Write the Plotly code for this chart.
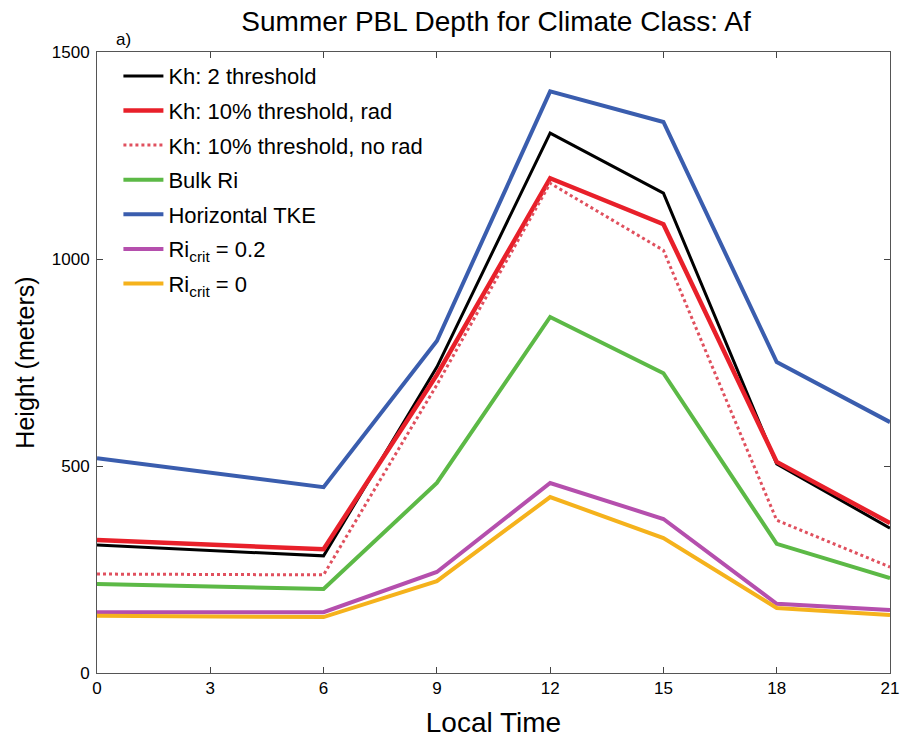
import plotly.graph_objects as go

local_time = [0, 3, 6, 9, 12, 15, 18, 21]
x_pts = [0, 6, 9, 12, 15, 18, 21]

kh2 = [309, 283, 739, 1304, 1159, 505, 350]
kh10_rad = [321, 299, 720, 1195, 1084, 510, 362]
kh10_norad = [239, 237, 696, 1183, 1021, 369, 256]
bulk_ri = [215, 203, 459, 860, 724, 312, 229]
tke = [519, 449, 802, 1405, 1331, 751, 606]
ri02 = [147, 147, 244, 459, 372, 167, 152]
ri0 = [138, 135, 222, 425, 326, 157, 140]

series = [
    ("Kh: 2 threshold", kh2, "#000000", 3, "solid"),
    ("Kh: 10% threshold, rad", kh10_rad, "#e8202a", 4.5, "solid"),
    ("Kh: 10% threshold, no rad", kh10_norad, "#e0505e", 3, "dot"),
    ("Bulk Ri", bulk_ri, "#5cb946", 4, "solid"),
    ("Horizontal TKE", tke, "#3a5dae", 4, "solid"),
    ("Ri<sub>crit</sub> = 0.2", ri02, "#b54fad", 4, "solid"),
    ("Ri<sub>crit</sub> = 0", ri0, "#f5b21c", 4, "solid"),
]

fig = go.Figure()
for i, (name, vals, color, w, dash) in enumerate(series):
    fig.add_trace(go.Scatter(x=x_pts, y=vals, mode="lines", name=name,
                             legendgroup=f"g{i}",
                             line=dict(color=color, width=w, dash=dash)))

W, H = 902, 742
font_fam = "Liberation Sans, Arial, sans-serif"
fig.update_layout(
    width=W, height=H,
    margin=dict(l=97, r=12, t=52, b=69, autoexpand=False),
    paper_bgcolor="white", plot_bgcolor="white",
    font=dict(family=font_fam, color="black", size=17),
    title=dict(text="Summer PBL Depth for Climate Class: Af", x=496 / W, xanchor="center",
               y=1 - 21 / H, yanchor="middle", font=dict(size=28)),
    showlegend=True,
    legend=dict(x=0.027, y=0.995, xanchor="left", yanchor="top", bgcolor="rgba(0,0,0,0)",
                font=dict(size=22), tracegroupgap=3, itemwidth=40),
    annotations=[dict(text="a)", x=0.022, y=1.0 + 12 / 621, xref="paper", yref="paper",
                      xanchor="left", yanchor="middle", showarrow=False,
                      font=dict(size=17))],
)
fig.update_xaxes(range=[0, 21], tickvals=local_time, ticks="inside", ticklen=6,
                 showline=True, linecolor="#555555", linewidth=1, mirror="ticks",
                 showgrid=False, zeroline=False, tickfont=dict(size=17), automargin=False,
                 ticklabeloverflow="allow",
                 title=dict(text="Local Time", font=dict(size=28), standoff=14))
fig.update_yaxes(range=[0, 1500], tickvals=[0, 500, 1000, 1500], ticks="inside", ticklen=6,
                 showline=True, linecolor="#555555", linewidth=1, mirror="ticks",
                 showgrid=False, zeroline=False, tickfont=dict(size=17), automargin=False,
                 ticklabelstandoff=3,
                 title=dict(text="Height (meters)", font=dict(size=25), standoff=10))

fig.write_html("out.html", config={"displayModeBar": False},
               post_script="document.body.style.margin='0';")
